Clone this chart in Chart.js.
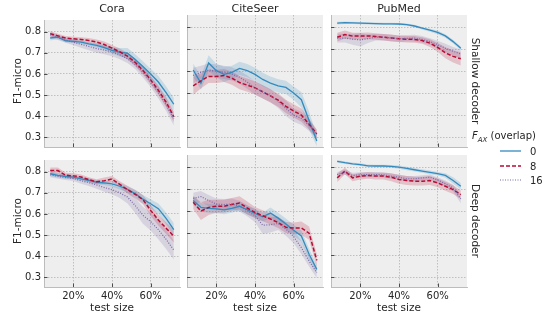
<!DOCTYPE html>
<html lang="en">
<head>
    <meta charset="UTF-8">
    <title>F1-micro vs test size</title>
    <script src="https://cdn.jsdelivr.net/npm/chart.js"></script>
    <style>
        html, body { margin: 0; padding: 0; background: #fff; }
        body { width: 551px; height: 320px; position: relative; overflow: hidden;
               font-family: "DejaVu Sans", sans-serif; color: #262626; }
        canvas { position: absolute; }
        .lbl { position: absolute; white-space: nowrap; transform: translate(-50%, -50%); }
        .rot-l { transform: translate(-50%, -50%) rotate(-90deg); }
        .rot-r { transform: translate(-50%, -50%) rotate(90deg); }
        .title { font-size: 11px; }
        .axis { font-size: 10.5px; }
        .leg { position: absolute; font-size: 10px; white-space: nowrap; transform: translateY(-50%); }
        svg { position: absolute; }
    </style>
</head>
<body>
    <div id="panels"></div>
    <div id="labels"></div>

    <script>
        // x values (test size in %) and tick labels
        const testSizes = [8, 12, 16, 20, 24, 28, 32, 36, 40, 44, 48, 52, 56, 60, 64, 68, 72];
        const xTicks = [20, 40, 60];
        const yTicks = [0.3, 0.4, 0.5, 0.6, 0.7, 0.8];
        const datasetNames = ['Cora', 'CiteSeer', 'PubMed'];
        const decoders = ['Shallow decoder', 'Deep decoder'];
        const overlaps = ['0', '8', '16'];

        // mean F1-micro, one array per dataset / decoder / overlap
        const coraShallow0  = [0.770, 0.774, 0.757, 0.754, 0.750, 0.742, 0.735, 0.725, 0.712, 0.703, 0.698, 0.668, 0.635, 0.600, 0.562, 0.512, 0.457];
        const coraShallow8  = [0.790, 0.780, 0.770, 0.766, 0.763, 0.758, 0.751, 0.739, 0.722, 0.705, 0.684, 0.655, 0.617, 0.572, 0.523, 0.467, 0.398];
        const coraShallow16 = [0.786, 0.772, 0.760, 0.750, 0.740, 0.730, 0.720, 0.713, 0.704, 0.690, 0.672, 0.645, 0.608, 0.563, 0.512, 0.455, 0.388];
        const citeShallow0  = [0.605, 0.545, 0.637, 0.602, 0.585, 0.594, 0.612, 0.602, 0.585, 0.562, 0.545, 0.533, 0.526, 0.500, 0.470, 0.375, 0.282];
        const citeShallow8  = [0.533, 0.556, 0.576, 0.576, 0.580, 0.568, 0.548, 0.536, 0.524, 0.506, 0.487, 0.468, 0.440, 0.419, 0.400, 0.358, 0.315];
        const citeShallow16 = [0.580, 0.594, 0.605, 0.600, 0.594, 0.587, 0.572, 0.550, 0.523, 0.506, 0.488, 0.462, 0.431, 0.400, 0.385, 0.353, 0.312];
        const pubShallow0   = [0.818, 0.820, 0.819, 0.818, 0.817, 0.816, 0.815, 0.815, 0.814, 0.811, 0.805, 0.795, 0.786, 0.776, 0.760, 0.734, 0.704];
        const pubShallow8   = [0.754, 0.766, 0.759, 0.759, 0.760, 0.757, 0.754, 0.751, 0.747, 0.745, 0.744, 0.739, 0.727, 0.708, 0.683, 0.667, 0.656];
        const pubShallow16  = [0.750, 0.750, 0.745, 0.742, 0.748, 0.754, 0.754, 0.750, 0.747, 0.749, 0.750, 0.744, 0.734, 0.720, 0.704, 0.690, 0.678];
        const coraDeep0     = [0.790, 0.782, 0.777, 0.774, 0.766, 0.759, 0.751, 0.747, 0.742, 0.731, 0.716, 0.696, 0.670, 0.648, 0.625, 0.579, 0.526];
        const coraDeep8     = [0.805, 0.805, 0.783, 0.780, 0.775, 0.762, 0.752, 0.757, 0.765, 0.740, 0.715, 0.693, 0.668, 0.617, 0.571, 0.533, 0.495];
        const coraDeep16    = [0.785, 0.778, 0.772, 0.768, 0.757, 0.748, 0.737, 0.725, 0.715, 0.700, 0.680, 0.640, 0.594, 0.564, 0.526, 0.480, 0.430];
        const citeDeep0     = [0.648, 0.617, 0.612, 0.610, 0.606, 0.612, 0.622, 0.606, 0.590, 0.574, 0.591, 0.568, 0.541, 0.513, 0.487, 0.404, 0.335];
        const citeDeep8     = [0.640, 0.600, 0.617, 0.622, 0.622, 0.630, 0.637, 0.614, 0.594, 0.579, 0.564, 0.548, 0.526, 0.523, 0.523, 0.500, 0.376];
        const citeDeep16    = [0.658, 0.666, 0.648, 0.632, 0.630, 0.632, 0.622, 0.602, 0.579, 0.536, 0.538, 0.544, 0.518, 0.484, 0.434, 0.373, 0.320];
        const pubDeep0      = [0.826, 0.820, 0.815, 0.811, 0.806, 0.805, 0.805, 0.803, 0.800, 0.794, 0.788, 0.782, 0.776, 0.770, 0.762, 0.739, 0.713];
        const pubDeep8      = [0.751, 0.782, 0.751, 0.759, 0.762, 0.759, 0.759, 0.754, 0.744, 0.739, 0.736, 0.736, 0.739, 0.728, 0.713, 0.698, 0.675];
        const pubDeep16     = [0.766, 0.777, 0.762, 0.765, 0.766, 0.766, 0.765, 0.759, 0.754, 0.747, 0.747, 0.751, 0.754, 0.742, 0.724, 0.705, 0.655];

        // half-width of the shaded confidence bands
        const coraShallow0Ci  = [0.012, 0.010, 0.008, 0.008, 0.008, 0.008, 0.010, 0.012, 0.015, 0.020, 0.025, 0.025, 0.025, 0.025, 0.028, 0.030, 0.030];
        const coraShallow8Ci  = [0.012, 0.010, 0.010, 0.010, 0.010, 0.012, 0.012, 0.014, 0.015, 0.015, 0.016, 0.018, 0.020, 0.020, 0.022, 0.024, 0.025];
        const coraShallow16Ci = [0.014, 0.012, 0.012, 0.014, 0.016, 0.018, 0.020, 0.020, 0.020, 0.020, 0.020, 0.022, 0.025, 0.025, 0.028, 0.030, 0.032];
        const citeShallow0Ci  = [0.030, 0.030, 0.035, 0.030, 0.035, 0.030, 0.030, 0.030, 0.030, 0.030, 0.030, 0.030, 0.030, 0.030, 0.035, 0.040, 0.025];
        const citeShallow8Ci  = [0.040, 0.035, 0.030, 0.030, 0.030, 0.030, 0.030, 0.030, 0.030, 0.030, 0.030, 0.030, 0.030, 0.030, 0.030, 0.025, 0.020];
        const citeShallow16Ci = [0.035, 0.030, 0.030, 0.030, 0.030, 0.030, 0.030, 0.030, 0.030, 0.030, 0.030, 0.030, 0.035, 0.030, 0.030, 0.025, 0.020];
        const pubShallow0Ci   = [0.006, 0.006, 0.005, 0.005, 0.005, 0.005, 0.005, 0.005, 0.005, 0.005, 0.006, 0.006, 0.007, 0.008, 0.008, 0.008, 0.008];
        const pubShallow8Ci   = [0.020, 0.018, 0.015, 0.015, 0.015, 0.015, 0.015, 0.015, 0.015, 0.015, 0.015, 0.015, 0.018, 0.020, 0.025, 0.028, 0.030];
        const pubShallow16Ci  = [0.020, 0.020, 0.025, 0.030, 0.020, 0.015, 0.015, 0.015, 0.015, 0.015, 0.015, 0.015, 0.015, 0.018, 0.020, 0.020, 0.020];
        const coraDeep0Ci     = [0.012, 0.010, 0.010, 0.010, 0.010, 0.010, 0.010, 0.010, 0.012, 0.015, 0.015, 0.018, 0.020, 0.022, 0.025, 0.028, 0.030];
        const coraDeep8Ci     = [0.015, 0.015, 0.012, 0.012, 0.012, 0.012, 0.012, 0.015, 0.015, 0.015, 0.018, 0.020, 0.022, 0.025, 0.025, 0.028, 0.030];
        const coraDeep16Ci    = [0.012, 0.012, 0.012, 0.012, 0.014, 0.016, 0.018, 0.020, 0.022, 0.025, 0.030, 0.035, 0.040, 0.042, 0.045, 0.045, 0.045];
        const citeDeep0Ci     = [0.020, 0.020, 0.020, 0.020, 0.020, 0.020, 0.020, 0.020, 0.020, 0.020, 0.025, 0.025, 0.025, 0.025, 0.025, 0.025, 0.020];
        const citeDeep8Ci     = [0.030, 0.040, 0.035, 0.030, 0.030, 0.030, 0.030, 0.030, 0.025, 0.025, 0.025, 0.025, 0.025, 0.025, 0.030, 0.030, 0.030];
        const citeDeep16Ci    = [0.025, 0.025, 0.025, 0.025, 0.025, 0.025, 0.025, 0.025, 0.030, 0.040, 0.035, 0.030, 0.030, 0.030, 0.030, 0.025, 0.025];
        const pubDeep0Ci      = [0.006, 0.006, 0.006, 0.006, 0.006, 0.006, 0.006, 0.006, 0.007, 0.008, 0.008, 0.008, 0.008, 0.008, 0.010, 0.015, 0.015];
        const pubDeep8Ci      = [0.020, 0.015, 0.015, 0.015, 0.015, 0.015, 0.015, 0.018, 0.020, 0.020, 0.020, 0.020, 0.020, 0.020, 0.020, 0.020, 0.020];
        const pubDeep16Ci     = [0.012, 0.012, 0.012, 0.012, 0.012, 0.012, 0.012, 0.012, 0.012, 0.012, 0.012, 0.012, 0.012, 0.012, 0.015, 0.015, 0.020];

        // panels laid out row by row
        const panelSeries = [
            [[coraShallow0, coraShallow8, coraShallow16], [citeShallow0, citeShallow8, citeShallow16], [pubShallow0, pubShallow8, pubShallow16]],
            [[coraDeep0, coraDeep8, coraDeep16], [citeDeep0, citeDeep8, citeDeep16], [pubDeep0, pubDeep8, pubDeep16]]
        ];
        const panelCi = [
            [[coraShallow0Ci, coraShallow8Ci, coraShallow16Ci], [citeShallow0Ci, citeShallow8Ci, citeShallow16Ci], [pubShallow0Ci, pubShallow8Ci, pubShallow16Ci]],
            [[coraDeep0Ci, coraDeep8Ci, coraDeep16Ci], [citeDeep0Ci, citeDeep8Ci, citeDeep16Ci], [pubDeep0Ci, pubDeep8Ci, pubDeep16Ci]]
        ];

        const lineColors = ['#348ABD', '#B50D35', '#7A68A6'];
        const bandColors = ['rgba(52,138,189,0.2)', 'rgba(181,13,53,0.2)', 'rgba(122,104,166,0.2)'];
        const lineDash = [[], [4, 2], [1, 1.5]];
        const lineWidth = [1.3, 1.5, 1.2];

        // layout of the grid (plot areas in page pixels)
        const colLeft = [44, 187, 331];
        const rowTop = [15, 155];
        const plotW = 136, plotH = 132;
        const padL = 44, padT = 4, padR = 4, padB = 36;

        Chart.defaults.font.family = '"DejaVu Sans", sans-serif';
        Chart.defaults.color = '#262626';

        // grey axes background
        const bgPlugin = {
            id: 'bg',
            beforeDraw(chart) {
                const a = chart.chartArea, ctx = chart.ctx;
                ctx.save();
                ctx.fillStyle = '#eeeeee';
                ctx.fillRect(a.left, a.top, a.right - a.left, a.bottom - a.top);
                ctx.restore();
            }
        };

        // small tick marks pointing into the plot
        const innerTicks = {
            id: 'innerTicks',
            afterDraw(chart) {
                const a = chart.chartArea, ctx = chart.ctx;
                ctx.save();
                ctx.strokeStyle = '#4d4d4d';
                ctx.lineWidth = 1;
                ctx.beginPath();
                xTicks.forEach(v => {
                    const px = Math.round(chart.scales.x.getPixelForValue(v)) + 0.5;
                    ctx.moveTo(px, a.bottom);
                    ctx.lineTo(px, a.bottom - 3.5);
                });
                yTicks.forEach(v => {
                    const py = Math.round(chart.scales.y.getPixelForValue(v)) + 0.5;
                    ctx.moveTo(a.left, py);
                    ctx.lineTo(a.left + 3.5, py);
                });
                ctx.stroke();
                ctx.restore();
            }
        };

        function makePanel(r, c) {
            const series = panelSeries[r][c];
            const cis = panelCi[r][c];
            const canvas = document.createElement('canvas');
            canvas.width = plotW + padL + padR;
            canvas.height = plotH + padT + padB;
            canvas.style.left = (colLeft[c] - padL) + 'px';
            canvas.style.top = (rowTop[r] - padT) + 'px';
            document.getElementById('panels').appendChild(canvas);

            const datasets = [];
            // lines first (index 0 is drawn on top), purple on top like the original
            [2, 1, 0].forEach(k => {
                datasets.push({
                    data: testSizes.map((x, i) => ({ x: x, y: series[k][i] })),
                    borderColor: lineColors[k],
                    borderWidth: lineWidth[k],
                    borderDash: lineDash[k],
                    pointRadius: 0,
                    tension: 0,
                    fill: false
                });
            });
            // shaded bands: upper filled down to the next (lower) dataset
            [0, 1, 2].forEach(k => {
                datasets.push({
                    data: testSizes.map((x, i) => ({ x: x, y: series[k][i] + cis[k][i] })),
                    borderWidth: 0,
                    pointRadius: 0,
                    backgroundColor: bandColors[k],
                    fill: '+1'
                });
                datasets.push({
                    data: testSizes.map((x, i) => ({ x: x, y: series[k][i] - cis[k][i] })),
                    borderWidth: 0,
                    pointRadius: 0,
                    fill: false
                });
            });

            new Chart(canvas.getContext('2d'), {
                type: 'line',
                data: { datasets: datasets },
                plugins: [bgPlugin, innerTicks],
                options: {
                    responsive: false,
                    animation: false,
                    devicePixelRatio: 1,
                    layout: { padding: { top: padT, right: padR, left: 0, bottom: 0 } },
                    plugins: {
                        legend: { display: false },
                        tooltip: { enabled: false },
                        filler: { drawTime: 'beforeDatasetsDraw' }
                    },
                    scales: {
                        x: {
                            type: 'linear',
                            min: 4.8,
                            max: 75.2,
                            afterBuildTicks: s => { s.ticks = xTicks.map(v => ({ value: v })); },
                            afterFit: s => { s.height = padB; },
                            ticks: {
                                display: r === 1,
                                callback: v => v + '%',
                                font: { size: 10 },
                                padding: 3,
                                maxRotation: 0,
                                autoSkip: false
                            },
                            grid: { color: '#b2b2b2', lineWidth: 0.8, drawTicks: false },
                            border: { display: true, color: '#bcbcbc', width: 1, dash: [1.5, 1.5] }
                        },
                        y: {
                            min: 0.255,
                            max: 0.855,
                            afterBuildTicks: s => { s.ticks = yTicks.map(v => ({ value: v })); },
                            afterFit: s => { s.width = padL; },
                            ticks: {
                                display: c === 0,
                                callback: v => v.toFixed(1),
                                font: { size: 10 },
                                padding: 3
                            },
                            grid: { color: '#b2b2b2', lineWidth: 0.8, drawTicks: false },
                            border: { display: true, color: '#bcbcbc', width: 1, dash: [1.5, 1.5] }
                        }
                    }
                }
            });
        }

        for (let r = 0; r < 2; r++) {
            for (let c = 0; c < 3; c++) makePanel(r, c);
        }

        // text around the grid
        const labels = document.getElementById('labels');
        function addLabel(text, x, y, cls) {
            const d = document.createElement('div');
            d.className = 'lbl ' + cls;
            d.style.left = x + 'px';
            d.style.top = y + 'px';
            d.innerHTML = text;
            labels.appendChild(d);
        }
        datasetNames.forEach((name, c) => addLabel(name, colLeft[c] + plotW / 2, 8, 'title'));
        decoders.forEach((name, r) => {
            addLabel('F1-micro', 17, rowTop[r] + plotH / 2, 'axis rot-l');
            addLabel(name, 476, rowTop[r] + plotH / 2, 'axis rot-r');
        });
        datasetNames.forEach((name, c) => addLabel('test size', colLeft[c] + plotW / 2, 307, 'axis'));

        // legend
        const legTitle = document.createElement('div');
        legTitle.className = 'leg';
        legTitle.style.left = '472px';
        legTitle.style.top = '137px';
        legTitle.innerHTML = '<i>F</i><sub style="font-size:7px"><i>AX</i></sub> (overlap)';
        labels.appendChild(legTitle);
        const legY = [151, 165.5, 180];
        overlaps.forEach((name, k) => {
            const svg = document.createElementNS('http://www.w3.org/2000/svg', 'svg');
            svg.setAttribute('width', '22');
            svg.setAttribute('height', '6');
            svg.style.left = '500px';
            svg.style.top = (legY[k] - 3) + 'px';
            const ln = document.createElementNS('http://www.w3.org/2000/svg', 'line');
            ln.setAttribute('x1', '0'); ln.setAttribute('x2', '21');
            ln.setAttribute('y1', '3'); ln.setAttribute('y2', '3');
            ln.setAttribute('stroke', lineColors[k]);
            ln.setAttribute('stroke-width', lineWidth[k]);
            if (lineDash[k].length) ln.setAttribute('stroke-dasharray', lineDash[k].join(' '));
            svg.appendChild(ln);
            labels.appendChild(svg);
            const t = document.createElement('div');
            t.className = 'leg';
            t.style.left = '530px';
            t.style.top = legY[k] + 'px';
            t.textContent = name;
            labels.appendChild(t);
        });
    </script>
</body>
</html>
